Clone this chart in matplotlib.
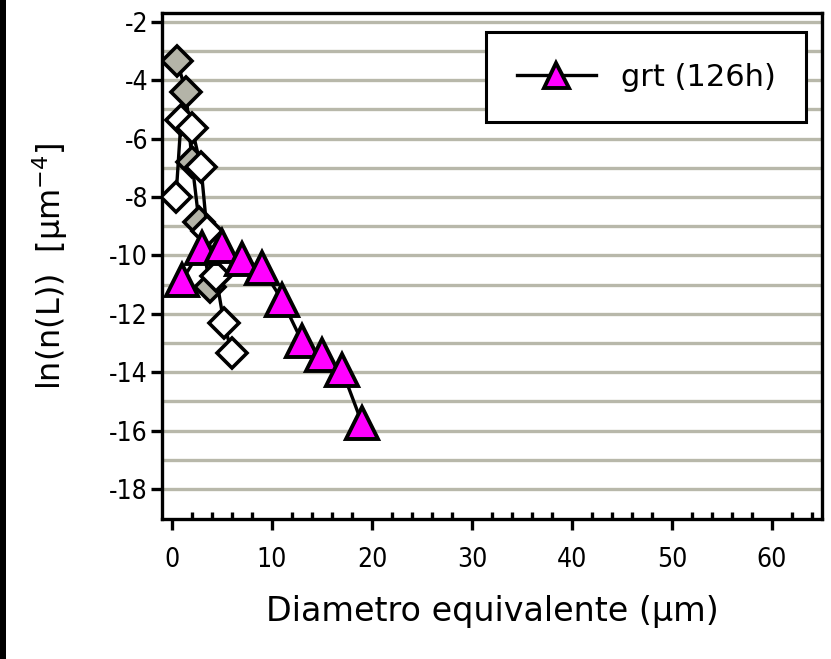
import matplotlib
matplotlib.use("Agg")
import matplotlib.pyplot as plt
from matplotlib.patches import Rectangle
from matplotlib.ticker import MultipleLocator
from matplotlib import font_manager as fm

# ---- data ----
grt_x = [1, 3, 5, 7, 9, 11, 13, 15, 17, 19]
grt_y = [-10.85, -9.76, -9.68, -10.14, -10.43, -11.53, -12.95, -13.43, -13.93, -15.75]

gray_x = [0.5, 1.4, 2.0, 2.7, 3.8]
gray_y = [-3.34, -4.40, -6.82, -8.85, -11.07]

white_x = [0.4, 0.9, 2.0, 2.9, 3.5, 4.4, 5.2, 6.0]
white_y = [-8.0, -5.37, -5.65, -6.98, -9.17, -10.72, -12.33, -13.36]

legend_label = "grt (126h)"
x_label = "Diametro equivalente (\u03bcm)"
y_label = "ln(n(L))  [\u03bcm$^{-4}$]"
x_ticks = [0, 10, 20, 30, 40, 50, 60]
y_ticks = [-2, -4, -6, -8, -10, -12, -14, -16, -18]

plt.rcParams['font.family'] = ['DejaVu Sans']
plt.rcParams['mathtext.default'] = 'regular'
plt.rcParams['axes.unicode_minus'] = False

# condensed face for tick labels if available
cond = None
for f in fm.fontManager.ttflist:
    if 'DejaVuSansCondensed.ttf' in f.fname:
        cond = f.fname
        break
tick_fp = fm.FontProperties(fname=cond, size=19) if cond else fm.FontProperties(family='DejaVu Sans', size=17)

W, H = 831, 659
fig = plt.figure(figsize=(W / 100, H / 100), dpi=100)
fig.patch.set_facecolor('white')
fig.patches.append(Rectangle((0, 0), 6 / W, 1, transform=fig.transFigure,
                             facecolor='black', edgecolor='none', zorder=0))

L, R, T, B = 162, 822, 13, 519
ax = fig.add_axes([L / W, 1 - B / H, (R - L) / W, (B - T) / H])

ax.set_xlim(-1, 65)
ax.set_ylim(-19.03, -1.7)

grid_c = '#b8b8aa'
for g in range(-18, -1):
    ax.axhline(g, color=grid_c, lw=2.4, zorder=0.5)

lw = 2.4
ax.plot(gray_x, gray_y, color='black', lw=lw, marker='D', ms=15.5,
        mfc='#b4b4a8', mec='black', mew=2.6, zorder=3)
ax.plot(white_x, white_y, color='black', lw=lw, marker='D', ms=15.5,
        mfc='white', mec='black', mew=2.6, zorder=4)
ax.plot(grt_x, grt_y, color='black', lw=lw, marker='^', ms=23,
        mfc='#ff00ff', mec='black', mew=2.8, zorder=5, label=legend_label)

for s in ax.spines.values():
    s.set_linewidth(2.4)
    s.set_color('black')

ax.set_xticks(x_ticks)
ax.xaxis.set_minor_locator(MultipleLocator(2))
ax.set_yticks(y_ticks)
ax.tick_params(axis='x', which='major', direction='out', length=8, width=2.4, pad=12)
ax.tick_params(axis='x', which='minor', direction='in', length=5, width=2.4)
ax.tick_params(axis='y', which='major', direction='out', length=8, width=2.4, pad=2)
ax.tick_params(axis='y', which='minor', left=False)
for lab in ax.get_xticklabels() + ax.get_yticklabels():
    lab.set_fontproperties(tick_fp)

ax.set_xlabel(x_label, fontsize=24, labelpad=16)
ax.set_ylabel(y_label, fontsize=23, labelpad=28)

leg = ax.legend(loc='upper right', bbox_to_anchor=((806 - L) / (R - L), (B - 32) / (B - T)),
                fontsize=22, frameon=True, fancybox=False, borderpad=1.0,
                handlelength=2.6, handletextpad=0.8, borderaxespad=0)
leg.get_frame().set_edgecolor('black')
leg.get_frame().set_linewidth(2.2)
leg.get_frame().set_facecolor('white')
leg.get_frame().set_alpha(1)
leg.legend_handles[0].set_markersize(18)

fig.savefig('out.png', dpi=100)
